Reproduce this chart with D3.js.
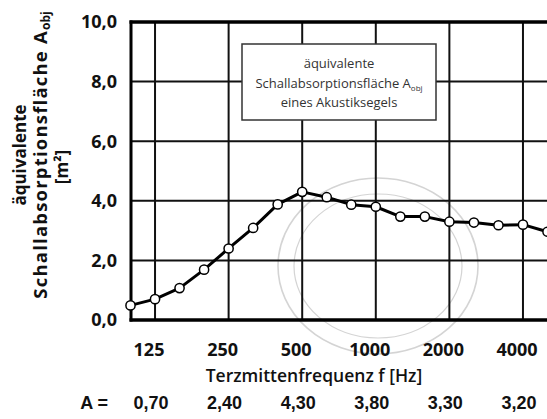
<!DOCTYPE html>
<html>
<head>
<meta charset="utf-8">
<script src="https://cdn.jsdelivr.net/npm/d3@7"></script>
<style>
  html, body { margin: 0; padding: 0; background: #fff; }
  svg { display: block; }
</style>
</head>
<body>
<div id="chart"></div>
<script>
// ---- data ----
const bands = ["100","125","160","200","250","315","400","500","630","800","1000","1250","1600","2000","2500","3150","4000","5000"];
const values = [0.49,0.70,1.07,1.69,2.40,3.09,3.88,4.30,4.12,3.87,3.80,3.47,3.47,3.30,3.27,3.18,3.20,2.96];
const octaveTicks = ["125","250","500","1000","2000","4000"];
const aLabels = ["0,70","2,40","4,30","3,80","3,30","3,20"];
const yTicks = [0,2,4,6,8,10];
const legendLines = ["äquivalente", "Schallabsorptionsfläche A", "eines Akustiksegels"];
const yTitleLines = ["äquivalente", "Schallabsorptionsfläche A", "[m²]"];
const xTitle = "Terzmittenfrequenz f [Hz]";

// ---- layout ----
const W = 547, H = 419;
const pL = 131, pR = 547.5, pT = 22, pB = 320;

const svg = d3.select("#chart").append("svg")
  .attr("width", W).attr("height", H)
  .attr("viewBox", `0 0 ${W} ${H}`);

const x = d3.scalePoint().domain(bands).range([pL - 0.5, pR]);
const y = d3.scaleLinear().domain([0, 10]).range([pB, pT]);

// stamp (faint)
const stamp = svg.append("g").attr("fill", "none").attr("stroke", "#d4d4d4");
stamp.append("ellipse").attr("cx", 378).attr("cy", 266).attr("rx", 100).attr("ry", 88).attr("stroke-width", 1.6);
stamp.append("ellipse").attr("cx", 378).attr("cy", 266).attr("rx", 84).attr("ry", 72).attr("stroke-width", 1.2);

// grid
const grid = svg.append("g").attr("stroke", "#111").attr("stroke-width", 2);
grid.selectAll("line.v").data(octaveTicks).join("line")
  .attr("class", "v")
  .attr("x1", d => x(d)).attr("x2", d => x(d))
  .attr("y1", pT).attr("y2", pB);
grid.selectAll("line.h").data(yTicks.filter(d => d > 0 && d < 10)).join("line")
  .attr("class", "h")
  .attr("x1", pL).attr("x2", W)
  .attr("y1", d => y(d)).attr("y2", d => y(d));

// frame
svg.append("line").attr("x1", pL - 1.5).attr("x2", W).attr("y1", y(10)).attr("y2", y(10))
  .attr("stroke", "#000").attr("stroke-width", 3.5);
svg.append("line").attr("x1", pL - 1.5).attr("x2", W).attr("y1", y(0)).attr("y2", y(0))
  .attr("stroke", "#000").attr("stroke-width", 3.5);
svg.append("line").attr("x1", pL).attr("x2", pL).attr("y1", y(10) - 1.5).attr("y2", y(0) + 1.5)
  .attr("stroke", "#000").attr("stroke-width", 3);

// legend box
const lg = svg.append("g");
lg.append("rect").attr("x", 242).attr("y", 44).attr("width", 194).attr("height", 76)
  .attr("fill", "#fff").attr("stroke", "#333").attr("stroke-width", 1.5);
const lgText = lg.append("g").attr("font-family", "'Open Sans', sans-serif")
  .attr("font-size", 13).attr("fill", "#333").attr("text-anchor", "middle");
lgText.append("text").attr("x", 339).attr("y", 68).text(legendLines[0]);
const lt2 = lgText.append("text").attr("x", 339).attr("y", 88);
lt2.append("tspan").text(legendLines[1]);
lt2.append("tspan").attr("font-size", 8).attr("dy", 3).text("obj");
lgText.append("text").attr("x", 339).attr("y", 107).text(legendLines[2]);

// data line
svg.append("path").datum(values)
  .attr("fill", "none").attr("stroke", "#000").attr("stroke-width", 3)
  .attr("stroke-linejoin", "round")
  .attr("d", d3.line().x((d, i) => x(bands[i])).y(d => y(d)));
svg.selectAll("circle.pt").data(values).join("circle")
  .attr("class", "pt")
  .attr("cx", (d, i) => x(bands[i])).attr("cy", d => y(d))
  .attr("r", 4.6).attr("fill", "#fff").attr("stroke", "#000").attr("stroke-width", 1.5);

// y tick labels
svg.append("g").attr("font-family", "'Open Sans', sans-serif").attr("font-weight", 700)
  .attr("font-size", 18).attr("fill", "#111").attr("text-anchor", "end")
  .selectAll("text").data(yTicks).join("text")
  .attr("x", 117).attr("y", d => y(d)).attr("dy", "0.36em")
  .text(d => d3.format(".1f")(d).replace(".", ","));

// x tick labels
svg.append("g").attr("font-family", "'Open Sans', sans-serif").attr("font-weight", 700)
  .attr("font-size", 18).attr("fill", "#111").attr("text-anchor", "middle")
  .selectAll("text").data(octaveTicks).join("text")
  .attr("x", d => x(d) - 6).attr("y", 356)
  .text(d => d);

// x title
svg.append("text").attr("x", 314).attr("y", 382)
  .attr("font-family", "'Open Sans', sans-serif").attr("font-weight", 600)
  .attr("font-size", 17.5).attr("fill", "#111").attr("text-anchor", "middle")
  .text(xTitle);

// A row
const aRow = svg.append("g").attr("font-family", "'Liberation Sans', Arial, sans-serif")
  .attr("font-weight", 700).attr("font-size", 18).attr("fill", "#111");
aRow.append("text").attr("x", 108).attr("y", 409).attr("text-anchor", "end").text("A =");
aRow.selectAll("text.a").data(aLabels).join("text")
  .attr("class", "a").attr("text-anchor", "middle")
  .attr("x", (d, i) => x(octaveTicks[i]) - 4).attr("y", 409)
  .text(d => d);

// y title
const yt = svg.append("g").attr("font-family", "'Open Sans', sans-serif").attr("font-weight", 700)
  .attr("fill", "#111").attr("text-anchor", "middle");
const cy = 155;
yt.append("text").attr("font-size", 17)
  .attr("transform", `translate(26,${cy}) rotate(-90)`).text(yTitleLines[0]);
const y2 = yt.append("text").attr("font-size", 18.5)
  .attr("transform", `translate(47,${cy}) rotate(-90)`);
y2.append("tspan").attr("letter-spacing", 1.2).text(yTitleLines[1]);
y2.append("tspan").attr("font-size", 12).attr("dy", 3).text("obj");
yt.append("text").attr("font-size", 17)
  .attr("transform", `translate(68,${cy + 12}) rotate(-90)`).text(yTitleLines[2]);
</script>
</body>
</html>
